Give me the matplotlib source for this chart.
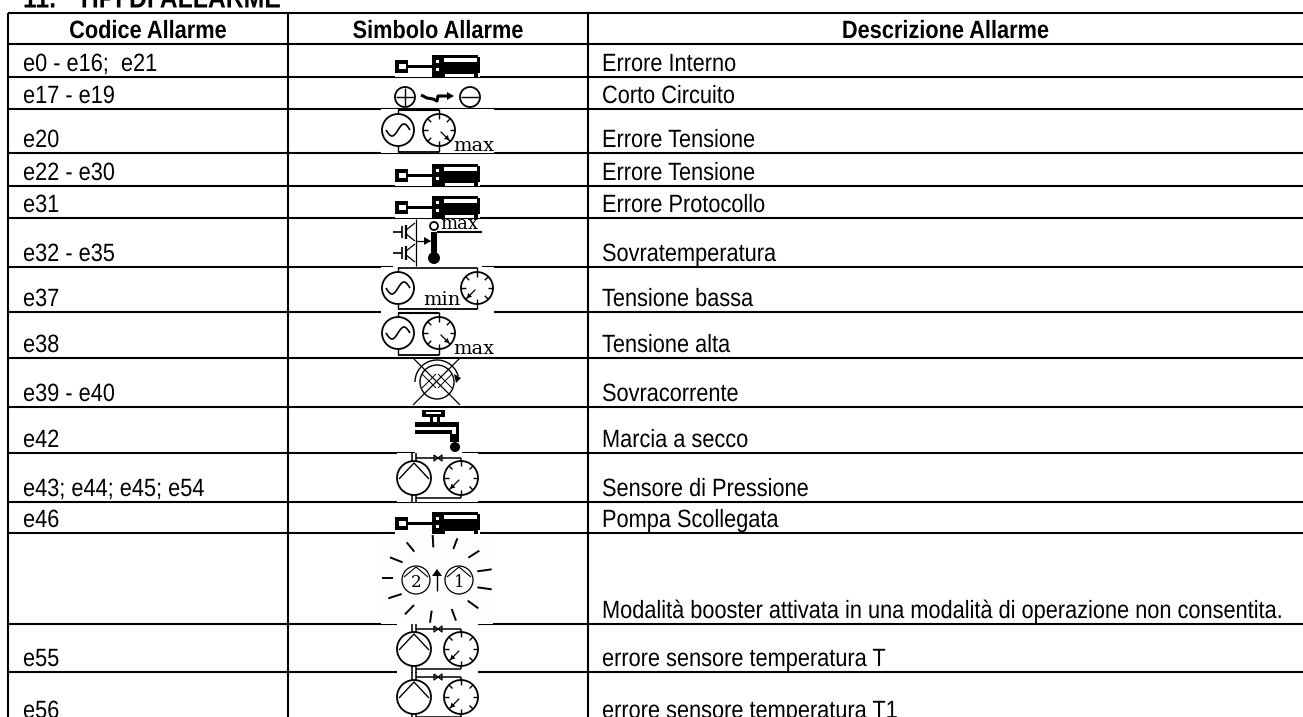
import numpy as np
import matplotlib
matplotlib.use("Agg")
import matplotlib.pyplot as plt
from matplotlib.patches import Circle, Rectangle, Polygon
from matplotlib.patheffects import AbstractPathEffect
from matplotlib.transforms import Affine2D

codes = ["e0 - e16;  e21", "e17 - e19", "e20", "e22 - e30", "e31", "e32 - e35", "e37",
         "e38", "e39 - e40", "e42", "e43; e44; e45; e54", "e46", "", "e55", "e56"]
descriptions = ["Errore Interno", "Corto Circuito", "Errore Tensione", "Errore Tensione",
                "Errore Protocollo", "Sovratemperatura", "Tensione bassa", "Tensione alta",
                "Sovracorrente", "Marcia a secco", "Sensore di Pressione", "Pompa Scollegata",
                "Modalità booster attivata in una modalità di operazione non consentita.",
                "errore sensore temperatura T", "errore sensore temperatura T1"]
headers = ["Codice Allarme", "Simbolo Allarme", "Descrizione Allarme"]
title = "11.   TIPI DI ALLARME"

# table layout in image pixels
row_edges = [13, 44, 77, 109, 153, 186, 218, 267, 312, 358, 407, 453, 502, 533, 624, 672, 724]
col_edges = [8, 288, 588, 1303]
LW = 1.5
FONT = "Liberation Sans"
FS = 18
TITLE_FS = 20.5
NARROW = 0.87

fig = plt.figure(figsize=(13.03, 7.17), dpi=100)
ax = fig.add_axes([0, 0, 1, 1])
ax.set_xlim(0, 1303)
ax.set_ylim(717, 0)
ax.axis("off")


# no narrow font installed, squeeze the glyphs around the text anchor
class Narrow(AbstractPathEffect):
    def __init__(self, x, sx):
        super().__init__()
        self.x = x
        self.sx = sx

    def draw_path(self, renderer, gc, tpath, affine, rgbFace=None):
        t = affine + Affine2D().translate(-self.x, 0).scale(self.sx, 1).translate(self.x, 0)
        renderer.draw_path(gc, tpath, t, rgbFace)


def narrow_text(x, y, s, ha="left", weight="normal", size=FS):
    ax.text(x, y, s, family=FONT, fontsize=size, fontweight=weight, ha=ha, va="baseline",
            path_effects=[Narrow(x, NARROW)], clip_on=True)


def line(xs, ys, lw=1.0, z=5):
    ax.plot(xs, ys, color="black", lw=lw, solid_capstyle="butt", zorder=z)


def circle(x, y, r, lw=1.3):
    ax.add_patch(Circle((x, y), r, fc="none", ec="black", lw=lw, zorder=5))


def blank(x0, y0, x1, y1, color="white"):
    ax.add_patch(Rectangle((x0, y0), x1 - x0, y1 - y0, fc=color, ec="none", zorder=3))


def block(x0, y0, x1, y1, color="black"):
    ax.add_patch(Rectangle((x0, y0), x1 - x0, y1 - y0, fc=color, ec="none", zorder=5))


def label(x, y, s, size=14):
    ax.text(x, y, s, family="DejaVu Serif", fontsize=size, va="baseline", ha="left", zorder=6)


def plug_icon(top):
    blank(395, top, 480, top + 22)
    block(395, top + 5, 408, top + 18)
    block(399, top + 9, 406, top + 14, "white")
    block(408, top + 10, 432, top + 13)
    block(432, top, 443, top + 22)
    block(436, top + 5, 439, top + 8, "white")
    block(436, top + 13, 439, top + 16, "white")
    block(443, top, 478, top + 19)
    block(444, top + 3, 477, top + 7, "white")
    block(443, top + 19, 445, top + 22)
    block(474, top + 19, 478, top + 22)
    block(478, top + 2, 480, top + 18)


def sine_circle(x, y):
    circle(x, y, 16)
    t = np.linspace(-1, 1, 40)
    line(x + 12 * t, y - 6 * np.sin(np.pi * t), 1.2)


def gauge(x, y, r=16, needle=1):
    circle(x, y, r)
    for a in np.arange(0, 360, 45):
        c, s = np.cos(np.radians(a)), np.sin(np.radians(a))
        line([x + c * r, x + c * (r - 5)], [y + s * r, y + s * (r - 5)], 1.0)
    d = r * 0.62
    line([x + needle * 0.1 * r, x + needle * d], [y + 0.1 * r, y + d], 0.9)
    tip = (x + needle * d, y + d)
    ax.add_patch(Polygon([tip, (tip[0] - needle * 5, tip[1] - 1), (tip[0] - needle, tip[1] - 5)],
                         fc="black", ec="none", zorder=5))


def max_icon(top):
    blank(381, top, 494, top + 44)
    sine_circle(398, top + 21)
    gauge(439, top + 21)
    line([398, 398], [top, top + 5])
    line([439, 439], [top, top + 5])
    line([398, 439], [top + 1, top + 1], 1.5)
    line([398, 398], [top + 37, top + 43])
    line([439, 439], [top + 37, top + 43])
    line([398, 439], [top + 43, top + 43], 1.3)
    label(453, top + 42, "max")


def min_icon(top):
    blank(381, top, 494, top + 45)
    sine_circle(398, top + 21)
    gauge(477, top + 21, needle=-1)
    line([398, 398], [top, top + 5])
    line([477, 477], [top, top + 5])
    line([398, 477], [top + 1, top + 1], 1.2)
    line([398, 398], [top + 37, top + 42])
    line([477, 477], [top + 37, top + 42])
    line([398, 477], [top + 42, top + 42], 1.3)
    label(423, top + 38, "min")


def short_icon(cy):
    circle(405, cy, 10)
    line([396, 414], [cy, cy])
    line([405, 405], [cy - 9, cy + 9])
    circle(470, cy, 10)
    line([461, 479], [cy, cy])
    line([421, 427, 433, 437, 438, 450], [cy - 2, cy + 1, cy + 2, cy + 4, cy - 1, cy - 1], 2.2)
    ax.add_patch(Polygon([(454, cy - 1), (447, cy - 5), (447, cy + 3)], fc="black", zorder=5))


def transistor(x, y):
    line([x, x + 9], [y, y], 1.2)
    line([x + 9, x + 9], [y - 6, y + 6], 1.2)
    line([x + 13, x + 13], [y - 7, y + 7], 1.6)
    line([x + 13, x + 22], [y - 2, y - 9], 0.9)
    line([x + 13, x + 22], [y + 2, y + 9], 0.9)


def thermal_icon():
    blank(393, 219, 482, 267)
    transistor(393, 232)
    transistor(393, 253)
    line([416, 416], [219, 266], 0.9)
    line([416, 430], [241, 241], 0.9)
    ax.add_patch(Polygon([(431, 241), (424, 237), (424, 245)], fc="black", zorder=5))
    block(431, 232, 437, 258)
    circle(434, 226, 4)
    ax.add_patch(Circle((434, 258), 6, fc="black", ec="none", zorder=5))
    line([437, 482], [232, 232], 1.5)
    label(440, 229, "max", 13)


def overcurrent_icon():
    blank(410, 359, 464, 406)
    cx, cy = 437, 382
    circle(cx, cy, 17, 1.0)
    line([413, 460], [358, 405], 0.9)
    line([460, 413], [358, 405], 0.9)
    # fan inside the lamp
    for dx in (-8, 8):
        line([cx + dx - 7, cx + dx + 7], [cy - 8, cy + 6], 0.7)
        line([cx + dx + 7, cx + dx - 7], [cy - 8, cy + 6], 0.7)
    t = np.radians(np.linspace(180, 345, 40))
    line(cx + 22 * np.cos(t), cy + 22 * np.sin(t), 1.0)
    ax.add_patch(Polygon([(461, 378), (454, 374), (456, 383)], fc="black", zorder=5))


def tap_icon():
    blank(415, 408, 462, 453)
    block(422, 410, 445, 417)
    block(426, 412, 441, 414, "white")
    block(430, 417, 440, 423)
    block(433, 417, 437, 422, "white")
    block(415, 422, 459, 427)
    block(415, 430, 450, 434)
    block(450, 430, 452, 442)
    block(456, 427, 459, 442)
    block(452, 434, 456, 442)
    ax.add_patch(Circle((455, 447), 5, fc="black", ec="none", zorder=5))


def pump_icon(top):
    cy = top + 25
    blank(397, top, 478, top + 49)
    line([412, 412], [top, top + 9], 1.1)
    line([416, 416], [top, top + 9], 1.1)
    line([416, 461], [top + 5, top + 5], 1.1)
    line([461, 461], [top + 5, top + 9], 1.1)
    line([434, 442, 442, 434, 434], [top + 2, top + 8, top + 2, top + 8, top + 2], 0.9)
    circle(414, cy, 17)
    line([399, 414, 429], [cy + 1, cy - 15, cy + 1], 1.0)
    gauge(461, cy, 17, needle=-1)
    line([412, 412], [cy + 17, top + 49], 1.1)
    line([416, 416], [cy + 17, top + 49], 1.1)
    line([416, 461], [cy + 20, cy + 20], 1.1)
    line([461, 461], [cy + 17, cy + 20], 1.1)


def booster_icon():
    blank(381, 534, 493, 624, "#fdfdfb")
    rays = [(125, 323, 160, 323), (150, 262, 188, 277), (200, 217, 223, 245), (278, 195, 280, 232),
            (352, 205, 340, 237), (418, 242, 385, 263), (455, 298, 412, 304), (455, 358, 412, 352),
            (415, 415, 383, 392), (348, 452, 335, 417), (270, 458, 275, 422), (195, 433, 222, 405),
            (145, 385, 185, 372)]
    for x0, y0, x1, y1 in rays:
        line([340 + x0 / 3, 340 + x1 / 3], [470 + y0 / 3, 470 + y1 / 3], 1.4)
    for x, s in ((416, "2"), (459, "1")):
        circle(x, 580, 14, 0.9)
        line([x - 12, x, x + 12], [577, 567, 577], 0.8)
        ax.text(x, 587, s, family="DejaVu Serif", fontsize=12, ha="center", va="baseline", zorder=6)
    line([437, 437], [572, 591], 1.0)
    ax.add_patch(Polygon([(437, 569), (432, 576), (442, 576)], fc="black", zorder=5))


# grid
for y in row_edges[:-1]:
    ax.plot([col_edges[0], 1303], [y, y], color="black", lw=LW, zorder=2, solid_capstyle="butt")
for x in col_edges[:-1]:
    ax.plot([x, x], [row_edges[0], 717], color="black", lw=LW, zorder=2, solid_capstyle="butt")

# title and header
narrow_text(23, 7.5, title, weight="bold", size=TITLE_FS)
for i, h in enumerate(headers):
    narrow_text((col_edges[i] + col_edges[i + 1]) / 2, 38, h, ha="center", weight="bold")

# rows
for i in range(len(codes)):
    base = row_edges[i + 2] - 6
    narrow_text(23, base, codes[i])
    narrow_text(col_edges[2] + 14, base, descriptions[i])

# symbols
plug_icon(55)
short_icon(97)
max_icon(109)
plug_icon(164)
plug_icon(196)
thermal_icon()
min_icon(267)
max_icon(312)
overcurrent_icon()
tap_icon()
pump_icon(453)
plug_icon(512)
booster_icon()
pump_icon(624)
pump_icon(672)

fig.savefig("out.png", dpi=100)
